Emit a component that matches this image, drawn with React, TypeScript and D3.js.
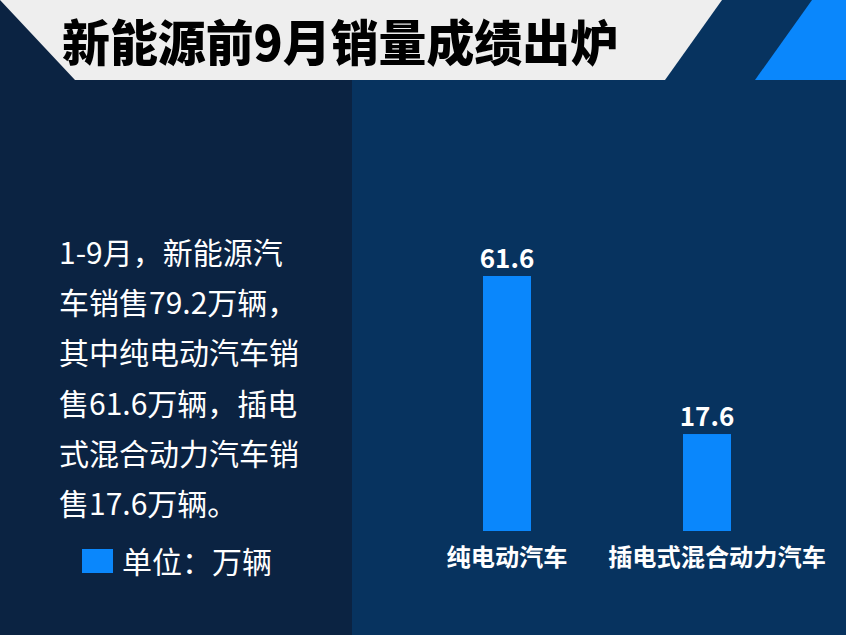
import React from "react";
import * as d3 from "d3";

const categories = ["纯电动汽车", "插电式混合动力汽车"];
const values = [61.6, 17.6];
const valueLabels = ["61.6", "17.6"];
const title = "新能源前9月销量成绩出炉";
const bodyLines = [
  "1-9月，新能源汽",
  "车销售79.2万辆，",
  "其中纯电动汽车销",
  "售61.6万辆，插电",
  "式混合动力汽车销",
  "售17.6万辆。",
];
const legendLabel = "单位：万辆";

const W = 846;
const H = 635;
const LEFT_BG = "#0b2342";
const RIGHT_BG = "#07335f";
const BLUE = "#0a87fc";
const FONT = "'Noto Sans CJK SC', 'Noto Sans', sans-serif";

export default function App() {
  const x = d3.scaleBand<string>().domain(categories).range([433, 781]).paddingInner(0.76).paddingOuter(0.25);
  const y = d3.scaleLinear().domain([-9.4, 61.6]).range([531, 276]);
  const bw = x.bandwidth();
  const labelOffsets = [0, 10];

  return (
    <div style={{ position: "absolute", left: 0, top: 0, width: W, height: H }}>
      <svg width={W} height={H} style={{ display: "block" }}>
        <rect x={0} y={0} width={352} height={H} fill={LEFT_BG} />
        <rect x={352} y={0} width={W - 352} height={H} fill={RIGHT_BG} />
        <polygon points="0,0 722,0 665,80 75,80" fill="#eeeeee" />
        <polygon points="812,0 846,0 846,80 755,80" fill={BLUE} />
        <text
          x={62}
          y={61}
          fontFamily={FONT}
          fontWeight={900}
          fontSize={49}
          fill="#000"
          textLength={556}
          lengthAdjust="spacingAndGlyphs"
        >
          {title}
        </text>
        {bodyLines.map((t, i) => (
          <text key={i} x={59} y={264 + i * 50.2} fontFamily={FONT} fontSize={30} fill="#fff">
            {t}
          </text>
        ))}
        <rect x={82} y={549} width={31} height={24} fill={BLUE} />
        <text x={122} y={573} fontFamily={FONT} fontSize={30} fill="#fff">
          {legendLabel}
        </text>
        {categories.map((c, i) => {
          const bx = x(c) as number;
          const cx = bx + bw / 2;
          return (
            <g key={c}>
              <rect x={bx} y={y(values[i])} width={bw} height={y(-9.4) - y(values[i])} fill={BLUE} />
              <text
                x={cx}
                y={y(values[i]) - 8}
                textAnchor="middle"
                fontFamily={FONT}
                fontWeight={700}
                fontSize={26}
                fill="#fff"
              >
                {valueLabels[i]}
              </text>
              <text
                x={cx + labelOffsets[i]}
                y={566}
                textAnchor="middle"
                fontFamily={FONT}
                fontWeight={700}
                fontSize={24.2}
                fill="#fff"
              >
                {c}
              </text>
            </g>
          );
        })}
      </svg>
    </div>
  );
}
